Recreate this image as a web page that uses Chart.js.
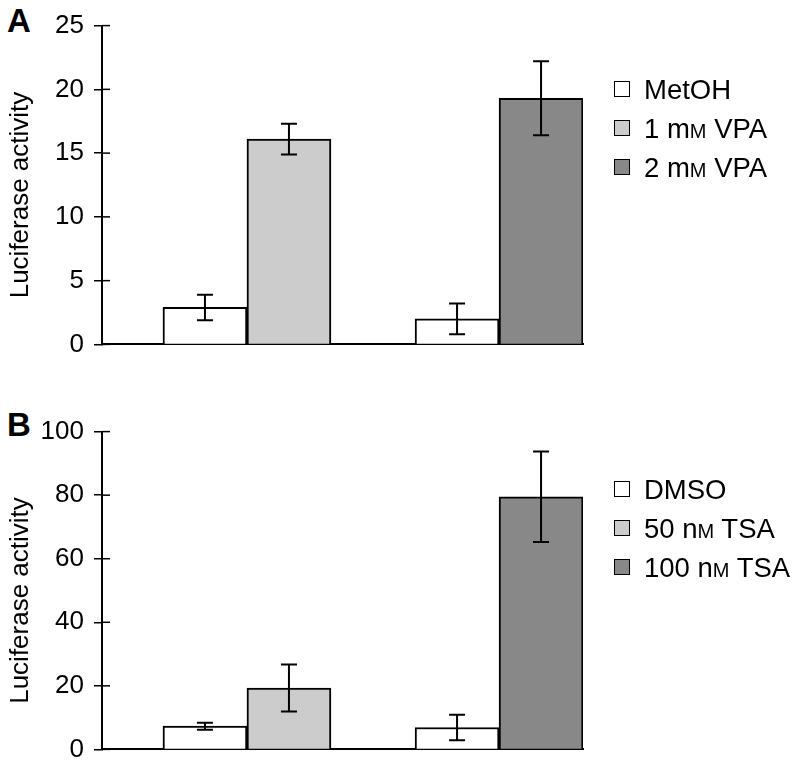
<!DOCTYPE html>
<html>
<head>
<meta charset="utf-8">
<script src="https://cdn.jsdelivr.net/npm/chart.js@4.4.0/dist/chart.umd.min.js"></script>
<style>
	body { margin: 0; background: #fff; font-family: "Liberation Sans", Arial, sans-serif; }
	#page { position: relative; width: 812px; height: 775px; overflow: hidden; }
	.panel { position: absolute; left: 0; }
	.letter { position: absolute; left: 7px; font-weight: bold; font-size: 33px; color: #000; }
	.legend { position: absolute; left: 614px; font-size: 27.5px; color: #000; }
	.legend .row { position: absolute; left: 0; white-space: nowrap; height: 30px; line-height: 30px; }
	.legend .box { position: absolute; left: 0; top: 6px; width: 14px; height: 14px; border: 1.5px solid #000; }
	.legend .txt { position: absolute; left: 30px; top: 0; }
	.sc { font-size: 20px; }
</style>
</head>
<body>
<div id="page">
	<div class="letter" style="top:2px">A</div>
	<div class="letter" style="top:406px">B</div>
	<div class="panel" style="top:0px"><canvas id="chartA" width="812" height="370"></canvas></div>
	<div class="panel" style="top:406px"><canvas id="chartB" width="812" height="369"></canvas></div>
	<div class="legend" id="legendA" style="top:0px"></div>
	<div class="legend" id="legendB" style="top:0px"></div>
</div>
<script>
// 데이터 (값은 그림에서 읽음)
const groupX = [1, 2];

// A: VPA
const controlA = [2.9, 2.0];
const controlErrA = [1.0, 1.2];
const treatedA = [16.1, 19.3];
const treatedErrA = [1.2, 2.9];
const legendA = ["MetOH", "1 mM VPA", "2 mM VPA"];
const yTicksA = [0, 5, 10, 15, 20, 25];
const yMinorStepA = 2.5;

// B: TSA
const controlB = [7.3, 6.9];
const controlErrB = [1.1, 4.0];
const treatedB = [19.3, 79.5];
const treatedErrB = [7.4, 14.2];
const legendB = ["DMSO", "50 nM TSA", "100 nM TSA"];
const yTicksB = [0, 20, 40, 60, 80, 100];
const yMinorStepB = 10;

const colors = ["#ffffff", "#cccccc", "#888888"];
const yTitle = "Luciferase activity";
const fontFamily = "'Liberation Sans', Arial, sans-serif";

// error bar + 안쪽 tick + y축 제목
const extraPlugin = {
	id: "extra",
	afterDatasetsDraw(chart) {
		const ctx = chart.ctx;
		const y = chart.scales.y;
		const area = chart.chartArea;
		const errs = chart.options.plugins.extra.errors;
		ctx.save();
		ctx.strokeStyle = "#000";
		ctx.lineWidth = 2;
		chart.data.datasets.forEach(function(ds, d) {
			const meta = chart.getDatasetMeta(d);
			meta.data.forEach(function(bar, i) {
				const v = ds.data[i].y;
				const e = errs[d][i];
				const top = y.getPixelForValue(v + e);
				const bot = y.getPixelForValue(v - e);
				ctx.beginPath();
				ctx.moveTo(bar.x, top);
				ctx.lineTo(bar.x, bot);
				ctx.moveTo(bar.x - 8, top);
				ctx.lineTo(bar.x + 8, top);
				ctx.moveTo(bar.x - 8, bot);
				ctx.lineTo(bar.x + 8, bot);
				ctx.stroke();
			});
		});
		// 큰 눈금은 축 안쪽으로도
		const majors = chart.options.plugins.extra.majors;
		ctx.lineWidth = 1.5;
		majors.forEach(function(t) {
			const py = y.getPixelForValue(t);
			ctx.beginPath();
			ctx.moveTo(area.left, py);
			ctx.lineTo(area.left + 8, py);
			ctx.stroke();
		});
		// y축 제목
		ctx.translate(21, (area.top + area.bottom) / 2 + 10);
		ctx.rotate(-Math.PI / 2);
		ctx.fillStyle = "#000";
		ctx.font = "26px " + fontFamily;
		ctx.textAlign = "center";
		ctx.textBaseline = "middle";
		ctx.fillText(yTitle, 0, 0);
		ctx.restore();
	}
};

function makeChart(id, control, controlErr, treated, treatedErr, yTicks, minorStep, padTop, padBottom) {
	const font = { family: fontFamily, size: 26 };
	return new Chart(document.getElementById(id), {
		type: "bar",
		data: {
			datasets: [
				{
					data: groupX.map((x, i) => ({ x: x, y: control[i] })),
					backgroundColor: colors[0],
					borderColor: "#000",
					borderWidth: 2
				},
				{
					data: groupX.map((x, i) => ({ x: x, y: treated[i] })),
					backgroundColor: [colors[1], colors[2]],
					borderColor: "#000",
					borderWidth: 2
				}
			]
		},
		options: {
			responsive: false,
			animation: false,
			barThickness: 84,
			layout: { padding: { top: padTop, bottom: padBottom, left: 0, right: 229 } },
			plugins: {
				legend: { display: false },
				tooltip: { enabled: false },
				extra: { errors: [controlErr, treatedErr], majors: yTicks }
			},
			scales: {
				x: {
					type: "linear",
					offset: false,
					min: 0.425,
					max: 2.333,
					ticks: { display: false },
					grid: { display: true, offset: false, drawOnChartArea: false, drawTicks: false },
					border: { color: "#000", width: 2 },
					afterFit: function(s) { s.height = 0; }
				},
				y: {
					min: yTicks[0],
					max: yTicks[yTicks.length - 1],
					ticks: {
						stepSize: minorStep,
						color: "#000",
						font: font,
						padding: 10,
						callback: function(v) { return yTicks.includes(v) ? v : ""; }
					},
					grid: { drawOnChartArea: false, drawTicks: true, tickLength: 8, color: "#000", lineWidth: 1.5 },
					border: { color: "#000", width: 2 },
					afterFit: function(s) { s.width = 102; }
				}
			}
		},
		plugins: [extraPlugin]
	});
}

makeChart("chartA", controlA, controlErrA, treatedA, treatedErrA, yTicksA, yMinorStepA, 16, 16);
makeChart("chartB", controlB, controlErrB, treatedB, treatedErrB, yTicksB, yMinorStepB, 17, 16);

// 범례
function fillLegend(id, labels, rowsY) {
	const el = document.getElementById(id);
	el.innerHTML = "";
	for (let i = 0; i < labels.length; i++) {
		const txt = labels[i].replace(/([mn])M/, '$1<span class="sc">M</span>');
		el.innerHTML += `
			<div class="row" style="top:${rowsY[i] - 15}px">
				<div class="box" style="background:${colors[i]}"></div>
				<div class="txt">${txt}</div>
			</div>
		`;
	}
}
fillLegend("legendA", legendA, [90, 129, 168]);
fillLegend("legendB", legendB, [490, 529, 568]);
</script>
</body>
</html>
